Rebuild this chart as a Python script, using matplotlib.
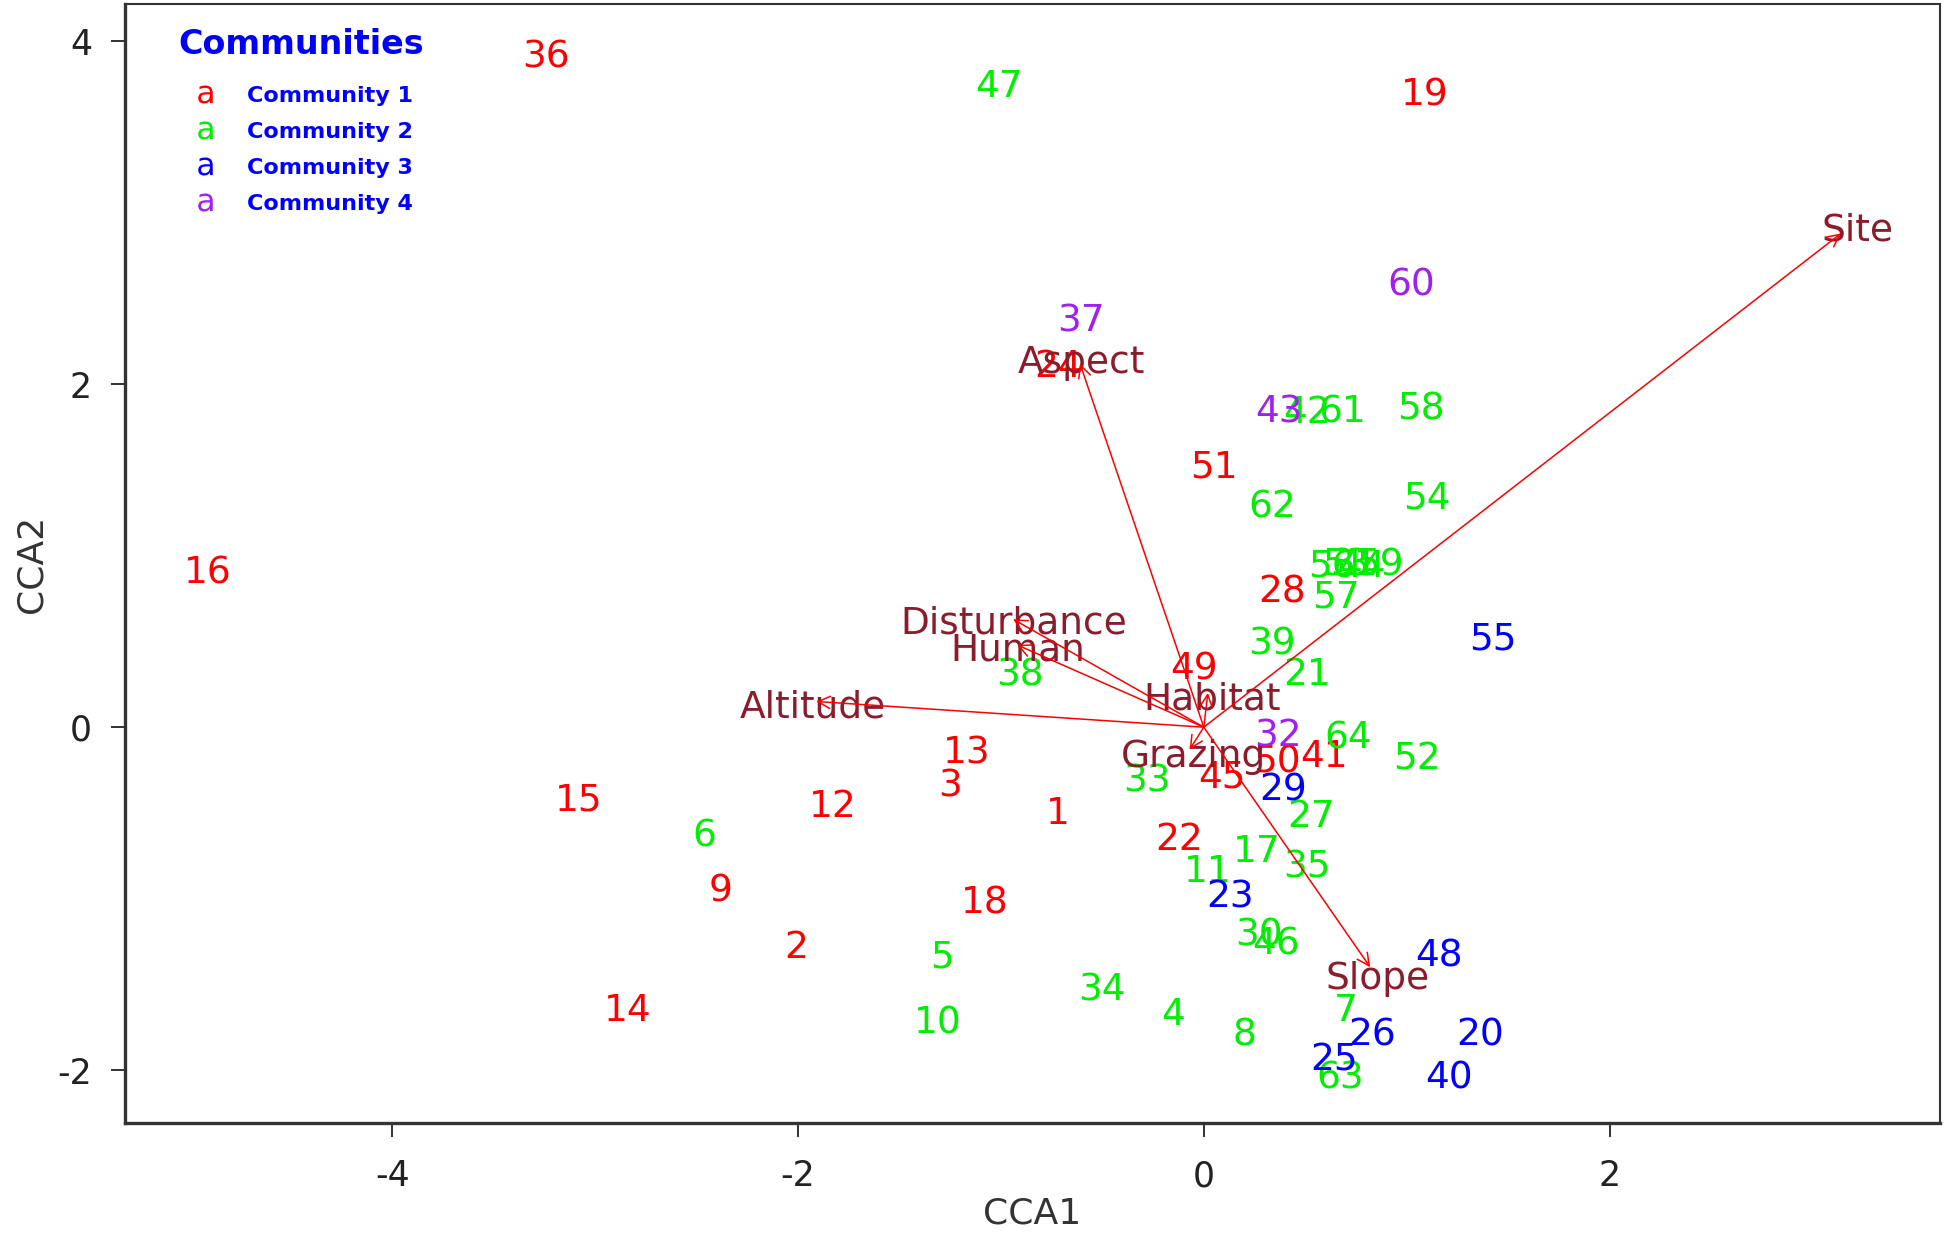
import numpy as np
import matplotlib
matplotlib.use('Agg')
import matplotlib.pyplot as plt
from matplotlib.lines import Line2D

plt.rcParams['font.family'] = ['DejaVu Sans']
plt.rcParams['axes.unicode_minus'] = False

# site scores (CCA1, CCA2) per community
c1_ids = [1, 2, 3, 9, 12, 13, 14, 15, 16, 18, 19, 22, 24, 28, 36, 41, 45, 49, 50, 51]
c1_x = [-0.72, -2.01, -1.25, -2.38, -1.83, -1.17, -2.84, -3.08, -4.91, -1.08, 1.09, -0.12, -0.72, 0.385, -3.24, 0.59, 0.09, -0.05, 0.36, 0.05]
c1_y = [-0.49, -1.27, -0.33, -0.94, -0.45, -0.14, -1.64, -0.41, 0.91, -1.01, 3.70, -0.64, 2.12, 0.80, 3.92, -0.16, -0.28, 0.35, -0.19, 1.53]

c2_ids = [4, 5, 6, 7, 8, 10, 11, 17, 21, 27, 30, 31, 33, 34, 35, 38, 39, 42, 44, 46, 47, 52, 53, 54, 56, 57, 58, 59, 61, 62, 63, 64]
c2_x = [-0.15, -1.29, -2.46, 0.70, 0.20, -1.31, 0.02, 0.26, 0.51, 0.53, 0.27, 0.74, -0.28, -0.50, 0.51, -0.905, 0.336, 0.51, 0.78, 0.355, -1.01, 1.05, 0.70, 1.10, 0.63, 0.65, 1.07, 0.87, 0.68, 0.336, 0.67, 0.71]
c2_y = [-1.66, -1.33, -0.62, -1.64, -1.78, -1.71, -0.83, -0.71, 0.32, -0.51, -1.20, 0.96, -0.30, -1.52, -0.80, 0.32, 0.50, 1.85, 0.95, -1.25, 3.75, -0.17, 0.96, 1.35, 0.95, 0.77, 1.87, 0.96, 1.85, 1.30, -2.03, -0.05]

c3_ids = [20, 23, 25, 26, 29, 40, 48, 55]
c3_x = [1.36, 0.13, 0.64, 0.83, 0.39, 1.21, 1.16, 1.425]
c3_y = [-1.78, -0.98, -1.93, -1.78, -0.355, -2.03, -1.32, 0.53]

c4_ids = [32, 37, 43, 60]
c4_x = [0.367, -0.605, 0.37, 1.02]
c4_y = [-0.04, 2.38, 1.85, 2.59]

comm_names = ['Community 1', 'Community 2', 'Community 3', 'Community 4']
comm_cols = ['#ff0000', '#00ee00', '#0000ff', '#a020f0']

# environmental biplot arrows
env_names = ['Site', 'Aspect', 'Disturbance', 'Human', 'Altitude', 'Habitat', 'Grazing', 'Slope']
env_x = [3.14, -0.61, -0.94, -0.92, -1.91, 0.02, -0.07, 0.82]
env_y = [2.88, 2.12, 0.63, 0.48, 0.15, 0.20, -0.13, -1.40]

fig = plt.figure(figsize=(19.46, 12.35), dpi=100)
ax = fig.add_axes([0.0644, 0.0905, 0.9324, 0.9065])

groups = [(c1_ids, c1_x, c1_y), (c2_ids, c2_x, c2_y), (c3_ids, c3_x, c3_y), (c4_ids, c4_x, c4_y)]
for (ids, xs, ys), col in zip(groups, comm_cols):
    for i, x, y in zip(ids, xs, ys):
        ax.annotate(str(i), (x, y), xytext=(0, -2), textcoords='offset points',
                    color=col, fontsize=27, ha='center', va='center', zorder=3)

for name, x, y in zip(env_names, env_x, env_y):
    ax.annotate(name, (x * 1.02, y * 1.02), xytext=(3, -5), textcoords='offset points',
                color='#8b1c2c', fontsize=27, ha='center', va='center', zorder=3)
    ax.annotate('', xy=(x, y), xytext=(0, 0),
                arrowprops=dict(arrowstyle='->', color='red', lw=1.1, mutation_scale=22,
                                shrinkA=0, shrinkB=0), zorder=4)

ax.set_xlim(-5.315, 3.627)
ax.set_ylim(-2.31, 4.22)
ax.set_xticks([-4, -2, 0, 2])
ax.set_yticks([-2, 0, 2, 4])
ax.tick_params(labelsize=25, length=10, width=1.3, color='#222222', labelcolor='#222222')
ax.tick_params(axis='x', pad=16)
ax.tick_params(axis='y', pad=14)
ax.set_xlabel('CCA1', fontsize=26, color='#333333', labelpad=2)
ax.set_ylabel('CCA2', fontsize=26, color='#333333', labelpad=6)
for s in ['left', 'bottom']:
    ax.spines[s].set_linewidth(2.4)
for s in ['top', 'right']:
    ax.spines[s].set_linewidth(1.5)
for s in ax.spines.values():
    s.set_color('#333333')

handles = [Line2D([], [], ls='none', marker='$\\mathsf{a}$', color=c, markersize=13,
                  markeredgewidth=0) for c in comm_cols]
leg = ax.legend(handles, comm_names, title='Communities', loc='upper left',
                bbox_to_anchor=(0.0135, 1.0045), frameon=True, fancybox=False,
                edgecolor='none', facecolor='white', framealpha=1,
                prop={'weight': 'bold', 'size': 16}, labelcolor='blue',
                title_fontproperties={'weight': 'bold', 'size': 24},
                handletextpad=1.2, labelspacing=0.72, borderpad=0.8, handlelength=1.4)
leg.get_title().set_color('blue')
leg._legend_box.sep = 18
leg.set_zorder(10)

fig.savefig('out.png', dpi=100)
